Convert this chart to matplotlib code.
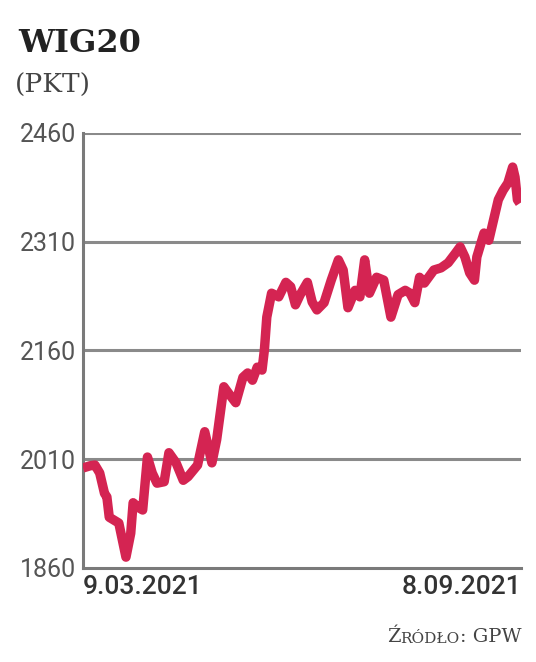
import matplotlib
matplotlib.use("Agg")
import matplotlib.pyplot as plt

# ---- data ----
days = [0, 3, 5, 7, 9, 10, 11, 13, 15, 18, 20, 21, 23, 25, 27, 29, 31, 34, 36, 39,
        42, 44, 48, 51, 54, 56, 59, 61, 64, 67, 69, 71, 73, 75, 76, 77, 79, 82, 85, 87,
        89, 91, 94, 96, 98, 101, 104, 107, 109, 111, 114, 116, 118, 120, 123, 126, 129,
        132, 135, 137, 139, 141, 143, 147, 150, 153, 156, 158, 160, 162, 164, 165, 168,
        170, 172, 174, 176, 178, 180, 181, 182, 183]
values = [1998, 2001, 2002, 1991, 1963, 1958, 1930, 1926, 1922, 1875, 1908, 1950, 1944,
          1940, 2013, 1991, 1977, 1979, 2019, 2005, 1981, 1986, 2002, 2048, 2005, 2037,
          2110, 2101, 2088, 2123, 2129, 2119, 2137, 2133, 2161, 2206, 2239, 2234, 2254,
          2248, 2223, 2237, 2254, 2227, 2216, 2226, 2257, 2285, 2271, 2219, 2243, 2234,
          2285, 2239, 2261, 2257, 2206, 2237, 2243, 2239, 2226, 2261, 2253, 2271, 2274,
          2281, 2294, 2303, 2289, 2267, 2257, 2289, 2322, 2312, 2340, 2368, 2381, 2391,
          2413, 2399, 2368, 2363]
yticks = [1860, 2010, 2160, 2310, 2460]
xtick_days = [0, 183]
xtick_labels = ["9.03.2021", "8.09.2021"]
title = "WIG20"
unit = "(PKT)"

LINE = "#d42452"
GRID = "#8a8a8a"
TXT = "#555555"

fig = plt.figure(figsize=(5.36, 6.62), dpi=100)
ax = fig.add_axes([83 / 536, 1 - 568 / 662, (521 - 83) / 536, (568 - 133) / 662])

ax.set_xlim(0, 183.5)
ax.set_ylim(1860, 2460)

for y in yticks[1:]:
    ax.axhline(y, color=GRID, lw=2.2, zorder=1)

ax.plot(days, values, color=LINE, lw=6.8, solid_joinstyle="round",
        solid_capstyle="butt", zorder=3)

for s in ["top", "right"]:
    ax.spines[s].set_visible(False)
for s in ["left", "bottom"]:
    ax.spines[s].set_color("#7a7a7a")
    ax.spines[s].set_linewidth(2.2)

ax.set_yticks(yticks)
ax.set_yticklabels([str(v) for v in yticks], fontsize=18, color=TXT,
                   family="Roboto")
ax.tick_params(axis="y", length=0, pad=5)
ax.set_xticks([])

# x labels: first left-aligned, last right-aligned
ax.text(xtick_days[0], -0.015, xtick_labels[0], transform=ax.get_xaxis_transform(),
        ha="left", va="top", fontsize=19, color="#333333", family="Roboto",
        fontweight="medium")
ax.text(xtick_days[1] + 0.5, -0.015, xtick_labels[1], transform=ax.get_xaxis_transform(),
        ha="right", va="top", fontsize=19, color="#333333", family="Roboto",
        fontweight="medium")

# title and unit
fig.text(18 / 536, 1 - 52 / 662, title, ha="left", va="baseline", fontsize=23,
         fontweight="bold", family="DejaVu Serif", color="#222222")
fig.text(15 / 536, 1 - 93 / 662, unit, ha="left", va="baseline", fontsize=19,
         family="DejaVu Serif", color="#444444")

# source with imitated small caps, chained from the right
big, small = 14, 11
t_gpw = fig.text(521 / 536, 1 - 642 / 662, ": GPW", ha="right", va="baseline",
                 fontsize=big, family="DejaVu Serif", color="#444444")
t_rod = ax.annotate("RÓDŁO", xy=(0, 0), xycoords=t_gpw, ha="right", va="bottom",
                    fontsize=small, family="DejaVu Serif", color="#444444",
                    annotation_clip=False)
t_z = ax.annotate("Ź", xy=(0, 0), xycoords=t_rod, ha="right", va="bottom",
                  fontsize=big, family="DejaVu Serif", color="#444444",
                  annotation_clip=False)

fig.savefig("out.png", dpi=100, facecolor="white")
